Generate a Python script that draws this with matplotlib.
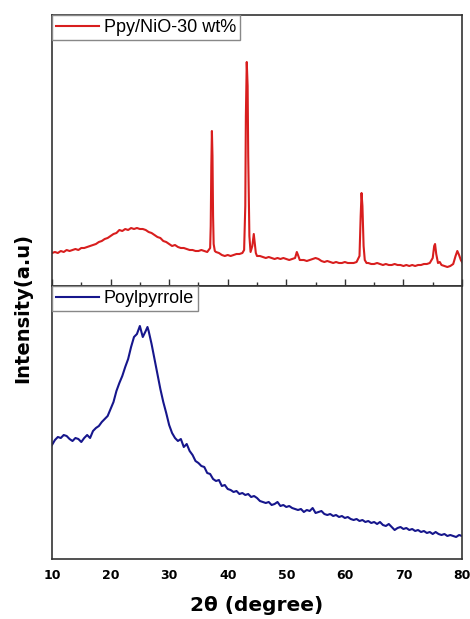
import matplotlib
matplotlib.use("Agg")
import matplotlib.pyplot as plt
from matplotlib.ticker import MultipleLocator

plt.rcParams['font.family'] = ['Liberation Sans', 'DejaVu Sans']

# Ppy/NiO-30 wt% (top panel), arbitrary intensity units
nio_x = [10, 10.5, 11, 11.5, 12, 12.5, 13, 13.5, 14, 14.5, 15, 15.5, 16, 16.5, 17, 17.5, 18, 18.5,
         19, 19.5, 20, 20.5, 21, 21.5, 22, 22.5, 23, 23.5, 24, 24.5, 25, 25.5, 26, 26.5, 27, 27.5,
         28, 28.5, 29, 29.5, 30, 30.5, 31, 31.5, 32, 32.5, 33, 33.5, 34, 34.5, 35, 35.5, 36, 36.5,
         37, 37.1, 37.2, 37.3, 37.4, 37.5, 37.6, 37.8, 38, 38.5, 39, 39.5, 40, 40.5, 41, 41.5, 42,
         42.5, 42.8, 43.0, 43.1, 43.25, 43.4, 43.5, 43.7, 43.9, 44.2, 44.45, 44.6, 44.8, 45, 45.5,
         46, 46.5, 47, 47.5, 48, 48.5, 49, 49.5, 50, 50.5, 51, 51.5, 51.8, 52.0, 52.3, 52.5, 53,
         53.5, 54, 54.5, 55, 55.5, 56, 56.5, 57, 57.5, 58, 58.5, 59, 59.5, 60, 60.5, 61, 61.5, 62,
         62.5, 62.7, 62.85, 63.0, 63.2, 63.4, 63.7, 64, 64.5, 65, 65.5, 66, 66.5, 67, 67.5, 68,
         68.5, 69, 69.5, 70, 70.5, 71, 71.5, 72, 72.5, 73, 73.5, 74, 74.5, 75, 75.25, 75.4, 75.6,
         75.9, 76.2, 76.5, 77, 77.5, 78, 78.5, 78.9, 79.2, 79.5, 79.8, 80]
nio_y = [33, 34, 33, 35, 34, 36, 35, 36, 37, 36, 38, 38, 39, 40, 41, 42, 44, 45,
         47, 48, 50, 52, 53, 56, 55, 57, 56, 58, 57, 58, 57, 57, 56, 54, 53, 51,
         49, 48, 45, 44, 42, 40, 41, 39, 38, 38, 37, 36, 36, 35, 35, 36, 35, 34,
         38, 60, 120, 155, 130, 70, 42, 35, 34, 33, 31, 30, 31, 30, 31, 32, 32,
         33, 36, 80, 170, 224, 200, 130, 50, 34, 40, 52, 44, 33, 30, 30,
         29, 28, 29, 28, 27, 28, 27, 28, 27, 26, 27, 28, 34, 31, 26, 26, 26,
         25, 26, 27, 28, 27, 25, 24, 25, 24, 23, 24, 23, 23, 24, 23, 23, 23, 24,
         30, 70, 93, 80, 40, 26, 23, 23, 22, 22, 23, 22, 21, 22, 21, 21,
         22, 21, 21, 20, 21, 20, 21, 20, 21, 21, 22, 22, 23, 28, 40, 42, 32,
         23, 24, 21, 20, 19, 20, 22, 30, 35, 31, 26, 24]

# Polypyrrole (bottom panel)
ppy_x = [10, 10.5, 11, 11.5, 12, 12.5, 13, 13.5, 14, 14.5, 15, 15.5, 16, 16.5, 17, 17.5, 18, 18.5,
         19, 19.5, 20, 20.5, 21, 21.5, 22, 22.5, 23, 23.5, 24, 24.5, 25, 25.5, 26, 26.3, 26.5, 27,
         27.5, 28, 28.5, 29, 29.5, 30, 30.5, 31, 31.5, 32, 32.5, 33, 33.5, 34, 34.5, 35, 35.5, 36,
         36.5, 37, 37.5, 38, 38.5, 39, 39.5, 40, 40.5, 41, 41.5, 42, 42.5, 43, 43.5, 44, 44.5, 45,
         45.5, 46, 46.5, 47, 47.5, 48, 48.5, 49, 49.5, 50, 50.5, 51, 51.5, 52, 52.5, 53, 53.5, 54,
         54.5, 55, 55.5, 56, 56.5, 57, 57.5, 58, 58.5, 59, 59.5, 60, 60.5, 61, 61.5, 62, 62.5, 63,
         63.5, 64, 64.5, 65, 65.5, 66, 66.5, 67, 67.5, 68, 68.5, 69, 69.5, 70, 70.5, 71, 71.5, 72,
         72.5, 73, 73.5, 74, 74.5, 75, 75.5, 76, 76.5, 77, 77.5, 78, 78.5, 79, 79.5, 80]
ppy_y = [114, 119, 122, 121, 124, 123, 120, 118, 121, 120, 117, 121, 124, 121, 128, 131, 133, 137,
         140, 143, 150, 157, 168, 176, 183, 192, 200, 212, 222, 225, 233, 222, 228, 232, 228, 215,
         200, 185, 170, 157, 146, 134, 126, 121, 118, 120, 112, 115, 108, 104, 98, 96, 93, 92,
         86, 85, 80, 78, 79, 73, 74, 70, 69, 67, 68, 65, 66, 64, 65, 62, 63, 61,
         58, 57, 56, 57, 54, 55, 57, 53, 54, 52, 53, 51, 50, 49, 50, 47, 49, 48,
         51, 46, 47, 48, 45, 44, 45, 43, 44, 42, 43, 41, 42, 40, 39, 40, 38, 39,
         37, 38, 36, 37, 35, 37, 34, 33, 35, 32, 29, 31, 32, 30, 31, 29, 30, 28,
         29, 27, 28, 26, 27, 25, 27, 25, 24, 25, 23, 24, 23, 22, 24, 23]

xticks = [10, 20, 30, 40, 50, 60, 70, 80]

W, H = 470, 619
fig = plt.figure(figsize=(W / 100, H / 100), dpi=100)
left, right = 52, 462
ax1 = fig.add_axes([left / W, 1 - 286 / H, (right - left) / W, 271 / H])
ax2 = fig.add_axes([left / W, 1 - 559 / H, (right - left) / W, 273 / H])

ax1.plot(nio_x, nio_y, color='#d81e1e', lw=1.5, label='Ppy/NiO-30 wt%')
ax2.plot(ppy_x, ppy_y, color='#16168c', lw=1.5, label='Poylpyrrole')

ax1.set_ylim(0, 271)
ax2.set_ylim(0, 273)
for ax in (ax1, ax2):
    ax.set_xlim(10, 80)
    ax.set_yticks([])
    for s in ax.spines.values():
        s.set_color('#333333')
        s.set_linewidth(1.2)
    leg = ax.legend(loc='upper left', borderaxespad=0, fontsize=13, fancybox=False,
                    handlelength=2.4, handletextpad=0.25, borderpad=0.22, framealpha=1)
    leg.get_frame().set_edgecolor('#888888')
    leg.get_frame().set_linewidth(1.0)

ax1.xaxis.set_major_locator(MultipleLocator(10))
ax1.xaxis.set_minor_locator(MultipleLocator(5))
ax1.tick_params(axis='x', which='major', direction='in', length=5, width=1, labelbottom=False, color='#333333')
ax1.tick_params(axis='x', which='minor', direction='in', length=3, width=1, color='#333333')

ax2.set_xticks(xticks)
ax2.set_xticklabels([str(t) for t in xticks], fontweight='bold', fontsize=9, family='DejaVu Sans')
ax2.tick_params(axis='x', length=0, pad=7)

ax2.set_xlabel('2θ (degree)', fontsize=14.5, fontweight='bold', labelpad=10, family='DejaVu Sans')
fig.text(23 / W, 1 - 308 / H, 'Intensity(a.u)', rotation=90, fontsize=14, fontweight='bold',
         ha='center', va='center', family='DejaVu Sans')

fig.savefig('out.png', dpi=100)
